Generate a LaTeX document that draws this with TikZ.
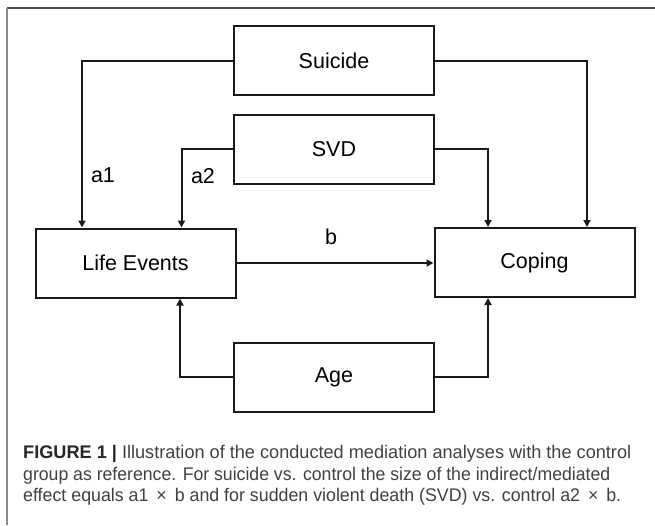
\documentclass[tikz,border=0pt]{standalone}
\usepackage{fontspec}
\setmainfont{Liberation Sans}
\usetikzlibrary{arrows.meta}
\definecolor{boxline}{HTML}{1A1A1A}
\definecolor{captxt}{HTML}{404040}
\definecolor{frametop}{HTML}{4A4A4A}
\definecolor{frameleft}{HTML}{8A8A8A}
\newcommand\fitwidth[2]{\resizebox{#1}{\height}{#2}}
\begin{document}
\begin{tikzpicture}[x=1pt,y=-1pt,
  var/.style={draw=boxline,line width=2pt,minimum width=200pt,minimum height=69pt,inner sep=0pt,
    font=\fontsize{21.5}{26}\selectfont},
  conn/.style={draw=boxline,line width=2pt,-{Triangle[length=7pt,width=7pt]}},
  lab/.style={font=\fontsize{21.5}{26}\selectfont,inner sep=0pt},
  captionline/.style={anchor=west,inner sep=0pt,text=captxt,font=\fontsize{18.3}{22}\selectfont}]
\useasboundingbox (0,0) rectangle (655,525);
% frame
\draw[frametop,line width=1.8pt] (7,8) -- (655,8);
\draw[frameleft,line width=2pt] (7,8) -- (7,525);
% nodes
\node[var] (suicide) at (334,60.5) {Suicide};
\node[var] (svd) at (334,149) {SVD};
\node[var] (le) at (135.5,263) {Life Events};
\node[var] (coping) at (534.5,262.5) {Coping};
\node[var] (age) at (334,377) {Age};
% connectors
\draw[conn] (suicide.west) -| ([xshift=-53.5pt]le.north);
\draw[conn] (svd.west) -| ([xshift=46pt]le.north);
\draw[conn] (age.west) -| ([xshift=44.5pt]le.south);
\draw[conn] (suicide.east) -| ([xshift=52.5pt]coping.north);
\draw[conn] (svd.east) -| ([xshift=-46.5pt]coping.north);
\draw[conn] (age.east) -| ([xshift=-46.5pt]coping.south);
\draw[conn] (le.east) -- (le.east -| coping.west);
% labels
\node[lab] (a1) at (103,175) {a1};
\node[lab] (a2) at (203,176) {a2};
\node[lab] (b) at (331,237) {b};
% caption
\node[captionline] (c1) at (23,454) {\fitwidth{608pt}{\textbf{\color{black!85}FIGURE 1 |} Illustration of the conducted mediation analyses with the control}};
\node[captionline] (c2) at (23,476) {\fitwidth{587pt}{group as reference. For suicide vs. control the size of the indirect/mediated}};
\node[captionline] (c3) at (23,497) {\fitwidth{598pt}{effect equals a1 \,×\, b and for sudden violent death (SVD) vs. control a2 \,×\, b.}};
\end{tikzpicture}
\end{document}
